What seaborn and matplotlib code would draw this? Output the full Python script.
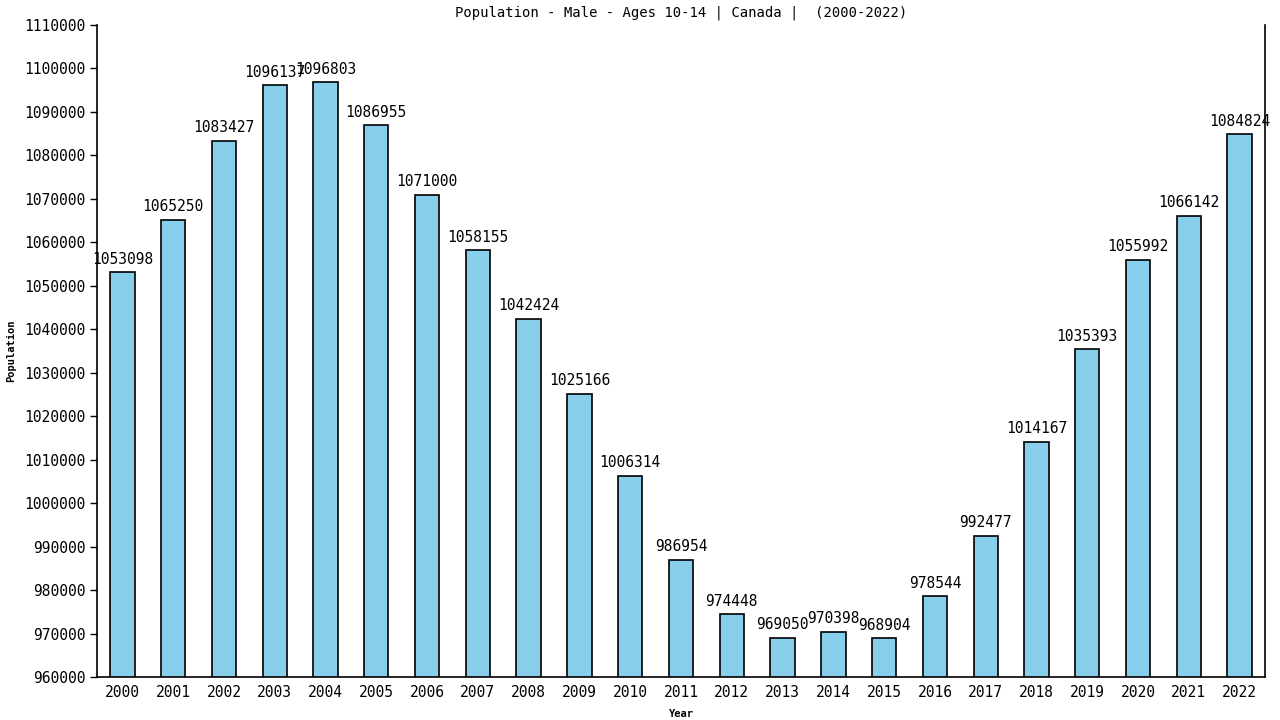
import matplotlib
matplotlib.use("Agg")
import matplotlib.pyplot as plt
import seaborn as sns
import pandas as pd

years = [str(y) for y in range(2000, 2023)]
population = [1053098, 1065250, 1083427, 1096137, 1096803, 1086955, 1071000,
              1058155, 1042424, 1025166, 1006314, 986954, 974448, 969050,
              970398, 968904, 978544, 992477, 1014167, 1035393, 1055992,
              1066142, 1084824]
title = "Population - Male - Ages 10-14 | Canada |  (2000-2022)"

sns.set_style("white")
plt.rcParams['font.family'] = ['DejaVu Sans Mono', 'DejaVu Sans']
plt.rcParams['text.color'] = 'black'
plt.rcParams['axes.labelcolor'] = 'black'
plt.rcParams['xtick.color'] = 'black'
plt.rcParams['ytick.color'] = 'black'

df = pd.DataFrame({"Year": years, "Population": population})

fig = plt.figure(figsize=(12.8, 7.2), dpi=100)
ax = fig.add_axes([97/1280, 43/720, (1265-97)/1280, (677-25)/720])
sns.barplot(data=df, x="Year", y="Population", color="#87CEEB",
            edgecolor="black", linewidth=1.2, width=0.48, saturation=1, ax=ax)

ax.set_ylim(960000, 1110000)
ax.set_xlim(-0.5, len(years) - 0.5)
ax.set_yticks(range(960000, 1110001, 10000))
ax.set_yticklabels([str(v) for v in range(960000, 1110001, 10000)], fontsize=10.5)
ax.tick_params(axis='x', labelsize=10.5, length=0, pad=6)
ax.tick_params(axis='y', length=5, width=1, direction='out', left=True, pad=3)

for i, v in enumerate(population):
    ax.annotate(str(v), (i, v), xytext=(0, 4), textcoords='offset points',
                ha='center', va='bottom', fontsize=10.5, color='black')

ax.set_title(title, fontsize=10, pad=6, color='black')
ax.set_xlabel("Year", fontsize=7.5, fontweight='bold', labelpad=6)
ax.set_ylabel("Population", fontsize=7.5, fontweight='bold', labelpad=6)

for s in ['left', 'bottom', 'right']:
    ax.spines[s].set_visible(True)
    ax.spines[s].set_color('black')
    ax.spines[s].set_linewidth(1.2)
ax.spines['top'].set_visible(False)

fig.savefig("out.png", dpi=100)
